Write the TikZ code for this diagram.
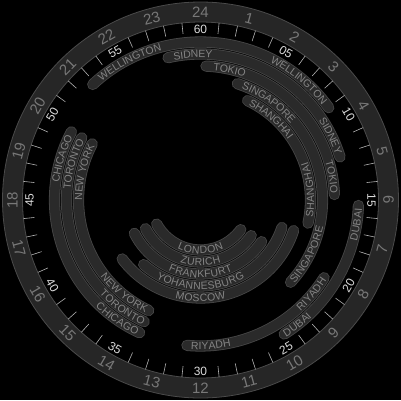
\documentclass[tikz,border=0pt]{standalone}
\usepackage{fontspec}
\setmainfont{Liberation Sans}
\usetikzlibrary{decorations.text}

\definecolor{dialgray}{HTML}{262626}
\definecolor{dialedge}{HTML}{4a4a4a}
\definecolor{hourgray}{HTML}{787878}
\definecolor{minutegray}{HTML}{dcdcdc}
\definecolor{tickgray}{HTML}{b0b0b0}
\definecolor{bandbody}{HTML}{2a2a2a}
\definecolor{bandrim}{HTML}{474747}
\definecolor{citygray}{HTML}{858585}

\newcommand{\cityfont}{\fontsize{10.5}{10.5}\selectfont}

% band from opening to closing hour (UTC), caps kept inside
\newcommand{\marketband}[3]{%
  \pgfmathsetmacro\capang{5.5/#1*57.2958}%
  \pgfmathsetmacro\bandfrom{90-15*#2-\capang}%
  \pgfmathsetmacro\bandto{90-15*#3+\capang}%
  \draw[band rim] (\bandfrom:#1pt) arc[start angle=\bandfrom, end angle=\bandto, radius=#1pt];
  \draw[band body] (\bandfrom:#1pt) arc[start angle=\bandfrom, end angle=\bandto, radius=#1pt];
}
% city name centred at an hour, read clockwise / counterclockwise
\newcommand{\cwname}[3]{%
  \pgfmathsetmacro\namefrom{130-15*#2}%
  \pgfmathsetmacro\nameto{50-15*#2}%
  \path[city name={#3}] (\namefrom:#1pt) arc[start angle=\namefrom, end angle=\nameto, radius=#1pt];
}
\newcommand{\ccwname}[3]{%
  \pgfmathsetmacro\namefrom{50-15*#2}%
  \pgfmathsetmacro\nameto{130-15*#2}%
  \path[city name={#3}] (\namefrom:#1pt) arc[start angle=\namefrom, end angle=\nameto, radius=#1pt];
}

\begin{document}
\begin{tikzpicture}[
    x=1pt, y=1pt,
    hour label/.style={text=hourgray, font=\fontsize{15}{15}\selectfont, inner sep=0pt},
    minute label/.style={text=minutegray, font=\fontsize{12}{12}\selectfont, inner sep=0pt},
    minute tick/.style={tickgray, line width=.6pt},
    band rim/.style={bandrim, line width=11.2pt, line cap=round},
    band body/.style={bandbody, line width=9.6pt, line cap=round},
    city name/.style={decorate, decoration={text along path, text={|\cityfont|#1},
      text align=center, text color=citygray, raise=-3.7pt}}]

  \fill[black] (-200.5,-200) rectangle (200.5,200);

  % hour ring
  \draw[dialgray, line width=20pt] (0,0) circle[radius=188pt];
  \draw[dialedge, line width=.8pt] (0,0) circle[radius=198pt] (0,0) circle[radius=178pt];
  \foreach \h in {1,...,24} {
    \pgfmathsetmacro\rot{(\h>6 && \h<18) ? 180-15*\h : -15*\h}
    \node[hour label, rotate=\rot] (h\h) at ({90-15*\h}:188pt) {\h};
  }

  % minutes
  \foreach \q in {0,...,11}
    \foreach \k in {1,...,4}
      \draw[minute tick] ({90-6*(5*\q+\k)}:167pt) -- ({90-6*(5*\q+\k)}:178pt);
  \foreach \m/\t in {5/05,10/10,15/15,20/20,25/25,30/30,35/35,40/40,45/45,50/50,55/55,60/60} {
    \pgfmathsetmacro\rot{(\m>15 && \m<45) ? 180-6*\m : -6*\m}
    \node[minute label, rotate=\rot] (m\m) at ({90-6*\m}:171pt) {\t};
  }

  % market hours
  \marketband{158}{21}{27.75}
  \marketband{158}{6}{10}
  \marketband{146}{23}{29}
  \marketband{146}{8}{12.5}
  \marketband{146}{13.5}{20}
  \marketband{134}{0}{6}
  \marketband{134}{13.5}{20}
  \marketband{122}{1}{9}
  \marketband{122}{13.5}{20}
  \marketband{110}{1.5}{7}
  \marketband{98}{7}{15.75}
  \marketband{86}{7}{15}
  \marketband{74}{8}{16.5}
  \marketband{62}{8}{16.5}
  \marketband{50}{8}{16.5}

  \cwname{158}{22.19}{WELLINGTON}
  \cwname{158}{2.63}{WELLINGTON}
  \ccwname{158}{6.6}{DUBAI}
  \ccwname{158}{9.48}{DUBAI}
  \cwname{146}{23.8}{SIDNEY}
  \cwname{146}{4.25}{SIDNEY}
  \ccwname{146}{8.69}{RIYADH}
  \ccwname{146}{11.73}{RIYADH}
  \ccwname{146}{14.33}{CHICAGO}
  \cwname{146}{19.11}{CHICAGO}
  \cwname{134}{0.84}{TOKIO}
  \cwname{134}{5.33}{TOKIO}
  \ccwname{134}{14.4}{TORONTO}
  \cwname{134}{19.05}{TORONTO}
  \cwname{122}{2.33}{SINGAPORE}
  \ccwname{122}{7.8}{SINGAPORE}
  \ccwname{122}{14.63}{NEW YORK}
  \cwname{122}{18.89}{NEW YORK}
  \cwname{110}{2.74}{SHANGHAI}
  \ccwname{110}{5.65}{SHANGHAI}
  \ccwname{98}{12}{MOSCOW}
  \ccwname{86}{12}{YOHANNESBURG}
  \ccwname{74}{12}{FRANKFURT}
  \ccwname{62}{12}{ZURICH}
  \ccwname{50}{12}{LONDON}
\end{tikzpicture}
\end{document}
